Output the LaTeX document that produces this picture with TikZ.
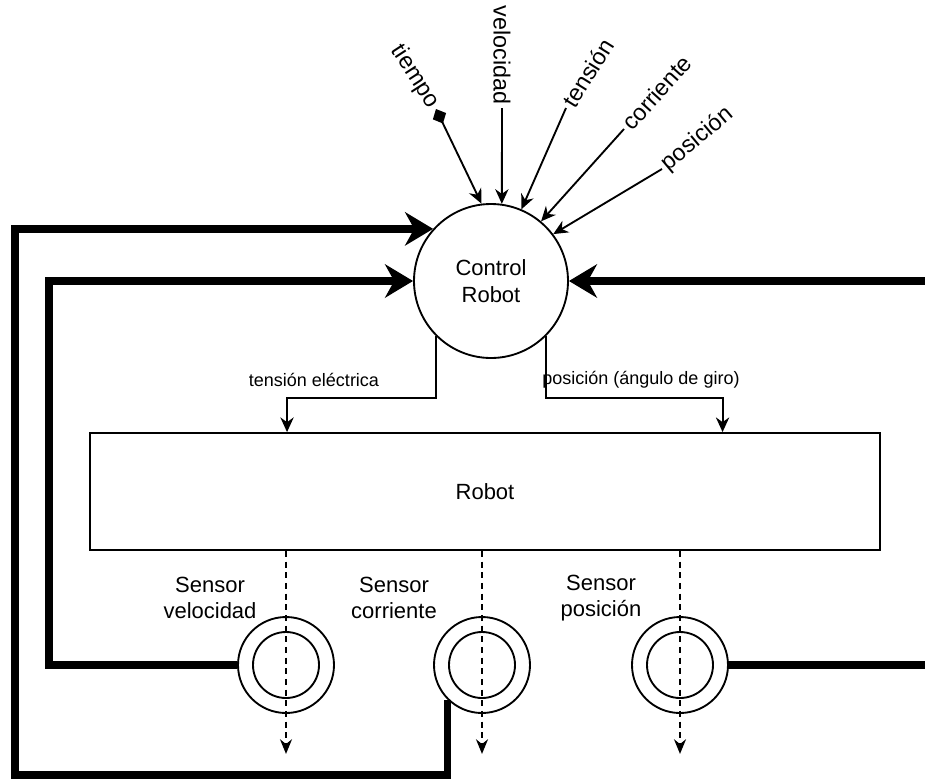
\documentclass[tikz,border=0pt]{standalone}
\usepackage{fontspec}
\setmainfont{Liberation Sans}
\usetikzlibrary{arrows.meta, positioning, calc}

\begin{document}
\begin{tikzpicture}[x=0.75pt, y=-0.75pt,
  every node/.style={font=\fontsize{16.5}{20}\selectfont, align=center},
  smalllbl/.style={font=\fontsize{13.5}{16}\selectfont},
  inlbl/.style={font=\fontsize{17.5}{20}\selectfont, inner sep=2.5pt},
  sensorout/.style={circle, draw, line width=1.4pt, minimum size=72pt, inner sep=0pt},
  sensorin/.style={circle, draw, line width=1.4pt, minimum size=49.5pt, inner sep=0pt},
  sig/.style={line width=1.4pt, -{Stealth[length=11pt, width=10pt]}},
  meas/.style={line width=1.4pt, dash pattern=on 4.5pt off 3.5pt, -{Stealth[length=11pt, width=9pt]}},
  fb/.style={line width=5.6pt, -{Stealth[length=21pt, width=25pt]}}
]
\useasboundingbox (0,0) rectangle (925,783);
\clip (0,0) rectangle (925,783);

% Control and plant
\node[circle, draw, line width=1.4pt, minimum size=115.5pt, inner sep=0pt] (cr) at (491,281) {Control\\Robot};
\node[draw, line width=1.4pt, minimum width=592.5pt, minimum height=87.75pt] (rb) at (485,491.5) {Robot};

% Inputs
\node[inlbl, rotate=-57, anchor=east] (ltp) at (436,109) {tiempo};
\node[inlbl, rotate=-90, anchor=east] (lvl) at (502,108) {velocidad};
\node[inlbl, rotate=58, anchor=west] (lts) at (566,108) {tensión};
\node[inlbl, rotate=48, anchor=west] (lco) at (624,129) {corriente};
\node[inlbl, rotate=40, anchor=west] (lps) at (662,169) {posición};
\draw[line width=1.4pt, {Diamond[length=12pt, width=11pt]}-{Stealth[length=11pt, width=10pt]}] (ltp.east) -- (cr.97);
\draw[sig] (lvl.east) -- (cr.82);
\draw[sig] (lts.west) -- (cr.67);
\draw[sig] (lco.west) -- (cr.50);
\draw[sig] (lps.west) -- (cr.37);

% Outputs to robot
\node[smalllbl] (lte) at (314,380) {tensión eléctrica};
\node[smalllbl] (lpo) at (641,380) {posición (ángulo de giro)};
\draw[sig] (cr.-135) -- ++(0,62) -| ($(rb.north west)!0.25!(rb.north east)$);
\draw[sig] (cr.-45) -- ++(0,62) -| ($(rb.north west)!0.8!(rb.north east)$);

% Sensors
\foreach \n/\x in {sv/286, sc/482, sp/680} {
   \node[sensorout] (\n) at (\x,665) {};
   \node[sensorin] at (\n) {};
   \draw[meas] (rb.south -| \n) -- ++(0,203);
}
\node (lsv) at (210,598) {Sensor\\velocidad};
\node (lsc) at (394,598) {Sensor\\corriente};
\node (lsp) at (601,598) {Sensor\\posición};

% Feedback
\draw[fb] (sv.west) -- ++(-188,0) |- (cr.west);
\draw[fb] (sc.-135) |- (15,775) |- (cr.138);
\draw[fb] (sp.east) -| (945,281) -- (cr.east);
\end{tikzpicture}
\end{document}
